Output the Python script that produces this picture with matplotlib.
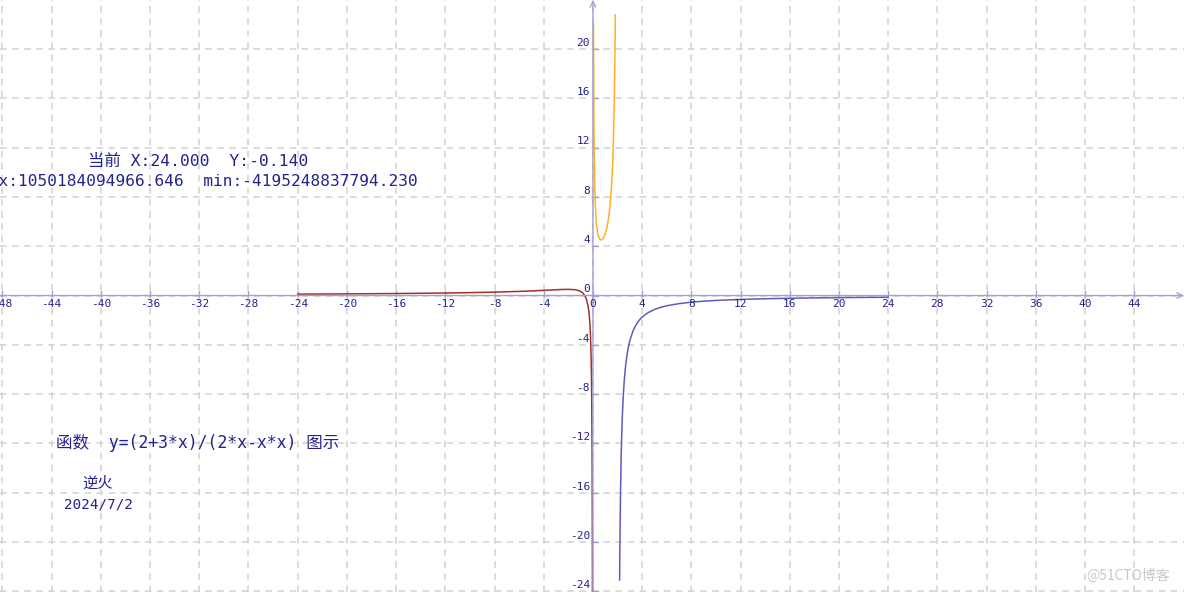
import matplotlib
matplotlib.use("Agg")
from matplotlib import pyplot as plt

# 曲线上读取的点 y=(2+3x)/(2x-x^2)
left_x = [-24, -20, -16, -12, -10, -8, -6, -5, -4, -3, -2.5, -2, -1.5, -1.2, -1, -0.85, -0.7,
          -0.6, -0.5, -0.4, -0.35, -0.3, -0.25, -0.2, -0.15, -0.12, -0.1, -0.08, -0.07, -0.06,
          -0.05, -0.045, -0.04, -0.038]
left_y = [0.112, 0.132, 0.160, 0.202, 0.233, 0.275, 0.333, 0.371, 0.417, 0.467, 0.489, 0.5,
          0.476, 0.417, 0.333, 0.227, 0.053, -0.128, -0.4, -0.833, -1.155, -1.594, -2.222,
          -3.182, -4.806, -6.447, -8.095, -10.577, -12.353, -14.725, -18.049, -20.266,
          -23.039, -24.35]

mid_x = [0.05, 0.06, 0.07, 0.08, 0.1, 0.12, 0.15, 0.2, 0.25, 0.3, 0.4, 0.5, 0.6, 0.7, 0.8,
         0.9, 1.0, 1.1, 1.2, 1.3, 1.4, 1.5, 1.6, 1.65, 1.7, 1.75, 1.78, 1.8, 1.82]
mid_y = [22.05, 18.73, 16.36, 14.58, 12.105, 10.461, 8.829, 7.222, 6.286, 5.686, 5.0, 4.667,
         4.524, 4.505, 4.583, 4.747, 5.0, 5.354, 5.833, 6.484, 7.381, 8.667, 10.625, 12.035,
         13.922, 16.571, 18.744, 20.556, 22.772]

right_x = [2.17, 2.2, 2.25, 2.3, 2.35, 2.4, 2.45, 2.5, 2.55, 2.6, 2.65, 2.7, 2.8, 2.9, 3,
           3.25, 3.5, 3.75, 4, 4.5, 5, 5.5, 6, 7, 8, 9, 10, 12, 14, 16, 18, 20, 22, 24]
right_y = [-23.07, -19.545, -15.556, -12.899, -11.003, -9.583, -8.481, -7.6, -6.881, -6.282,
           -5.776, -5.344, -4.643, -4.100, -3.667, -2.892, -2.381, -2.019, -1.75, -1.378,
           -1.133, -0.961, -0.833, -0.657, -0.542, -0.460, -0.4, -0.317, -0.262, -0.223,
           -0.194, -0.172, -0.155, -0.140]

x_ticks = list(range(-48, 48, 4))
y_ticks = list(range(-24, 24, 4))

title_text = "函数  y=(2+3*x)/(2*x-x*x) 图示"
cur_text = "当前 X:24.000  Y:-0.140"
range_text = "max:1050184094966.646  min:-4195248837794.230"
author = "逆火"
date = "2024/7/2"

text_color = "#23238e"
axis_color = "#a0a0d6"
fam = ["DejaVu Sans Mono", "Noto Sans CJK SC"]

fig = plt.figure(figsize=(11.84, 5.92), dpi=100)
ax = fig.add_axes([0, 0, 1, 1])
ax.set_xlim(-48.2, 48.05)
ax.set_ylim(-24.05, 23.97)
ax.axis("off")

# 虚线网格
for t in x_ticks:
    ax.axvline(t, color="#d2d2d2", lw=1.1, dashes=(4.3, 3.6), zorder=0)
for t in y_ticks:
    ax.axhline(t, color="#d2d2d2", lw=1.1, dashes=(4.3, 3.6), zorder=0)

# 坐标轴和箭头
ax.annotate("", xy=(48.05, 0), xytext=(-48.2, 0),
            arrowprops=dict(arrowstyle="->", color=axis_color, lw=1.0, shrinkA=0, shrinkB=0))
ax.annotate("", xy=(0, 23.97), xytext=(0, -24.05),
            arrowprops=dict(arrowstyle="->", color=axis_color, lw=1.0, shrinkA=0, shrinkB=0))

for t in x_ticks:
    ax.plot([t, t], [0, 0.4], color=axis_color, lw=1.0)
    ax.annotate(str(t), (t, 0), xytext=(0, -6.3), textcoords="offset points",
                ha="center", va="center", fontsize=8, color=text_color,
                family="DejaVu Sans Mono")
for t in y_ticks:
    ax.plot([0, 0.4], [t, t], color=axis_color, lw=1.0)
    ax.annotate(str(t), (0, t), xytext=(-2.2, 4.5), textcoords="offset points",
                ha="right", va="center", fontsize=8, color=text_color,
                family="DejaVu Sans Mono")

ax.plot(left_x, left_y, color="#a3302a", lw=1.1)
ax.plot(mid_x, mid_y, color="#ffb224", lw=1.1)
ax.plot(right_x, right_y, color="#5c5cc0", lw=1.1)

fig.text(0.1672, 0.728, cur_text, ha="center", va="center", fontsize=11.8,
         color=text_color, family=fam)
fig.text(0.1672, 0.6926, range_text, ha="center", va="center", fontsize=11.6,
         color=text_color, family=fam)
fig.text(0.1672, 0.2517, title_text, ha="center", va="center", fontsize=11.9,
         color=text_color, family=fam)
fig.text(0.0828, 0.184, author, ha="center", va="center", fontsize=11,
         color=text_color, family=fam)
fig.text(0.0828, 0.1486, date, ha="center", va="center", fontsize=10.3,
         color=text_color, family=fam)
fig.text(0.988, 0.027, "@51CTO博客", ha="right", va="center", fontsize=10,
         color="#c8c8c8", family=["Noto Sans CJK SC", "DejaVu Sans"])

fig.savefig("out.png", dpi=100)
